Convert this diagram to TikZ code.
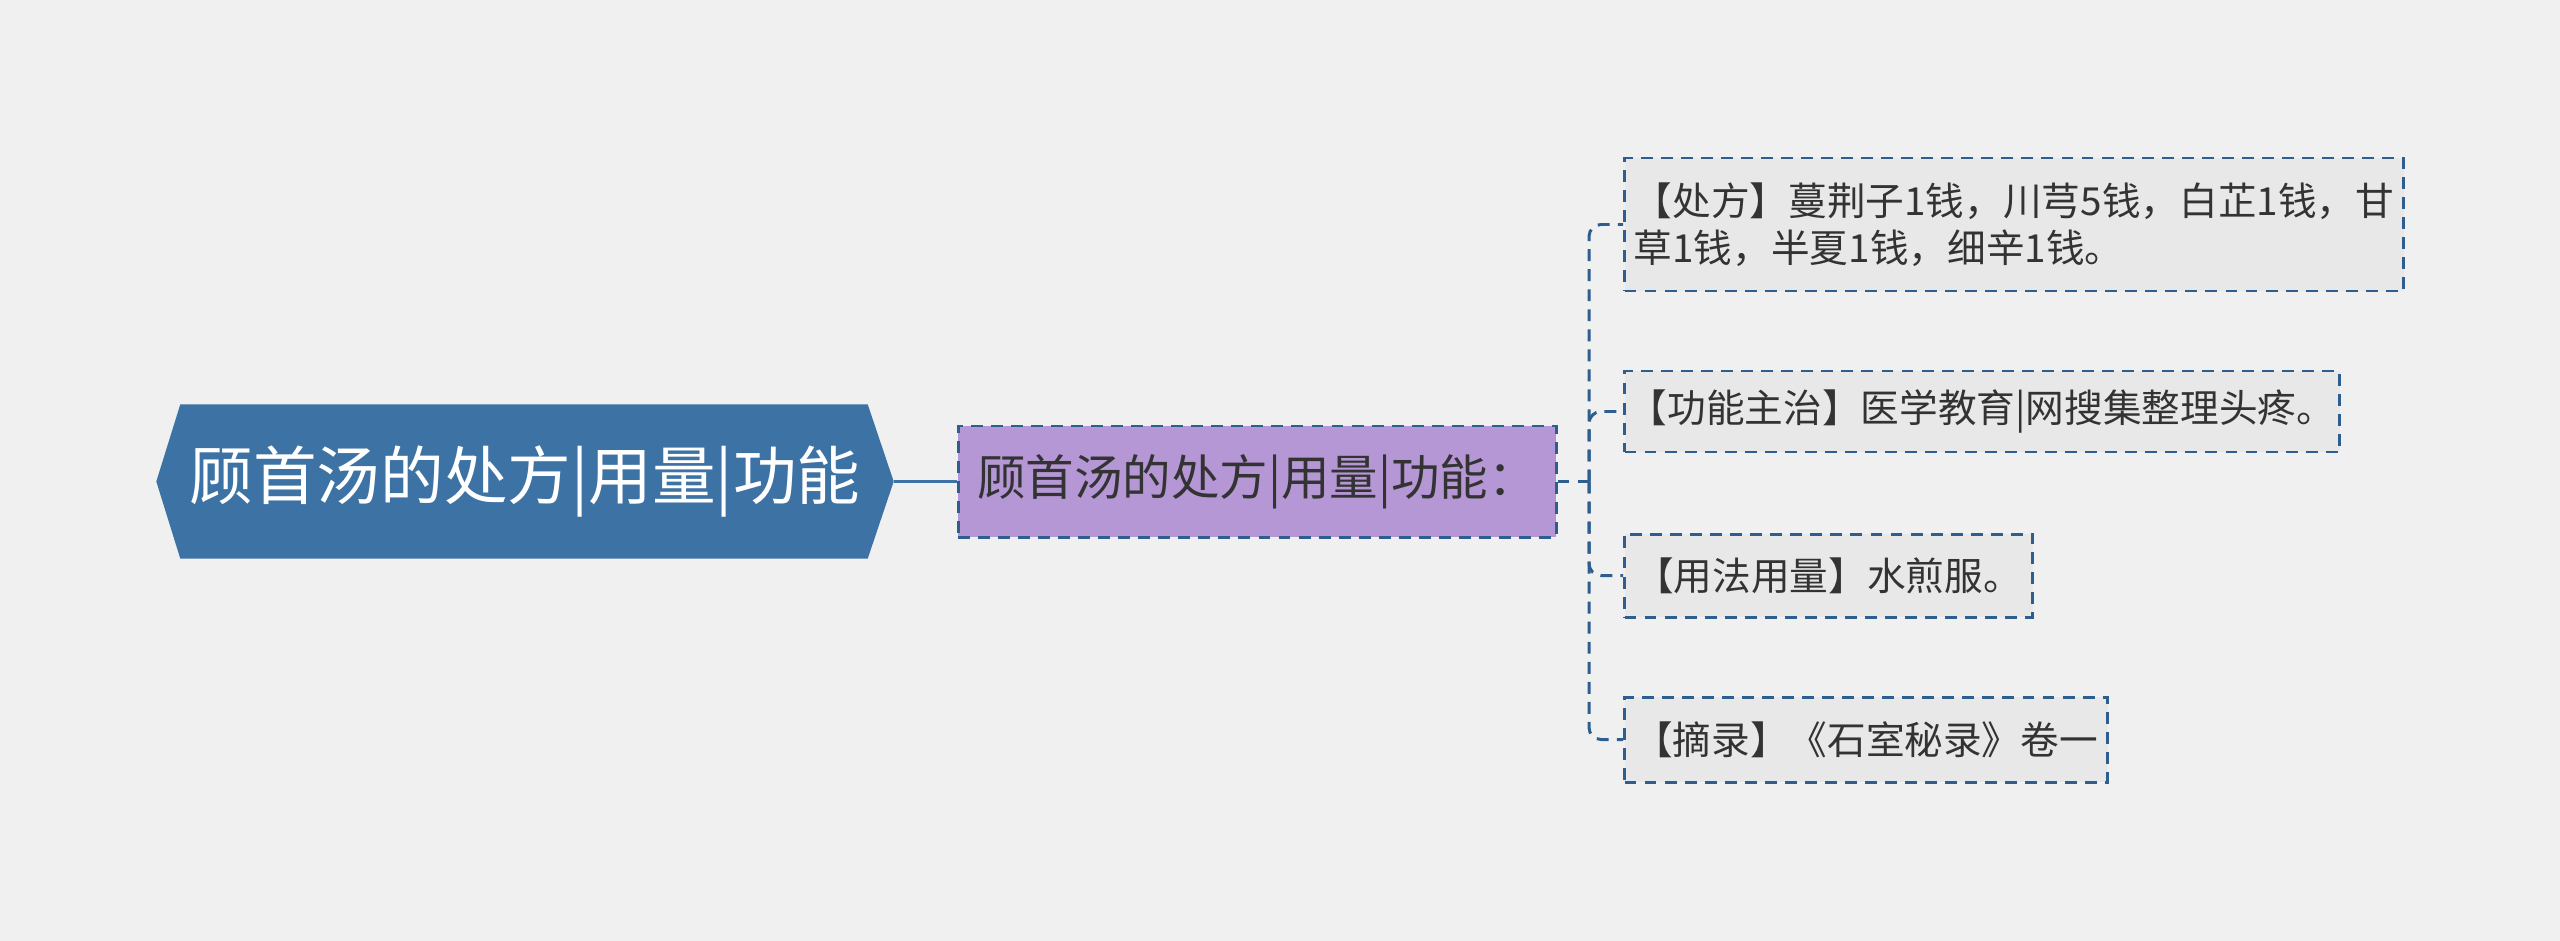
\documentclass[tikz,border=0pt]{standalone}
\usepackage{fontspec}
\setmainfont{Noto Sans CJK SC}
\usetikzlibrary{backgrounds}
\definecolor{mapbg}{RGB}{240,240,240}
\definecolor{rootblue}{RGB}{61,114,164}
\definecolor{linkblue}{RGB}{46,94,142}
\definecolor{subpurple}{RGB}{182,151,214}
\definecolor{leafgray}{RGB}{232,232,232}
\definecolor{inkgray}{RGB}{51,51,51}

\begin{document}
\begin{tikzpicture}[
  rootbox/.style={minimum width=7.36cm, minimum height=1.53cm, inner sep=0pt, text=white, font=\fontsize{18.1}{21}\selectfont},
  dashbox/.style={draw=linkblue, line width=0.85pt, dash pattern=on 3.4pt off 2.3pt},
  subbox/.style={dashbox, fill=subpurple, text=inkgray, minimum width=5.98cm, minimum height=1.11cm, inner sep=0pt, font=\fontsize{13.8}{16}\selectfont},
  leafbox/.style={dashbox, fill=leafgray, text=inkgray, anchor=west, align=left, inner sep=0pt, font=\fontsize{11}{13.4}\selectfont},
  link/.style={linkblue, line width=0.85pt, dash pattern=on 3.4pt off 2.3pt, rounded corners=0.12cm},
]
\begin{scope}[on background layer]
\fill[mapbg] (0,0) rectangle (25.6,-9.41);
\end{scope}
\useasboundingbox (0,0) rectangle (25.6,-9.41);

% root and main topic
\node[rootbox] (root) at (5.25,-4.815) {顾首汤的处方|用量|功能};
\begin{scope}[on background layer]
\fill[rootblue] (root.west) -- ([xshift=0.24cm]root.north west) -- ([xshift=-0.26cm]root.north east)
  -- (root.east) -- ([xshift=-0.26cm]root.south east) -- ([xshift=0.24cm]root.south west) -- cycle;
\end{scope}
\node[subbox] (sub) at (12.57,-4.815) {顾首汤的处方|用量|功能：};
\draw[rootblue, line width=0.85pt] (root.east) -- (sub.west);

% leaves
\node[leafbox, minimum width=7.79cm, minimum height=1.33cm] (recipe) at (16.23,-2.245)
  {【处方】蔓荆子1钱，川芎5钱，白芷1钱，甘\\草1钱，半夏1钱，细辛1钱。};
\node[leafbox, minimum width=7.15cm, minimum height=0.81cm] (effect) at (16.23,-4.115)
  {【功能主治】医学教育|网搜集整理头疼。};
\node[leafbox, minimum width=4.08cm, minimum height=0.83cm] (usage) at (16.23,-5.755)
  {【用法用量】水煎服。};
\node[leafbox, minimum width=4.83cm, minimum height=0.85cm] (source) at (16.23,-7.395)
  {【摘录】《石室秘录》卷一};

\coordinate (hub) at (15.89,-4.815);
\draw[link] (sub.east) -- (hub);
\foreach \leaf in {recipe,effect,usage,source}
  \draw[link] (hub) |- (\leaf.west);
\end{tikzpicture}
\end{document}
